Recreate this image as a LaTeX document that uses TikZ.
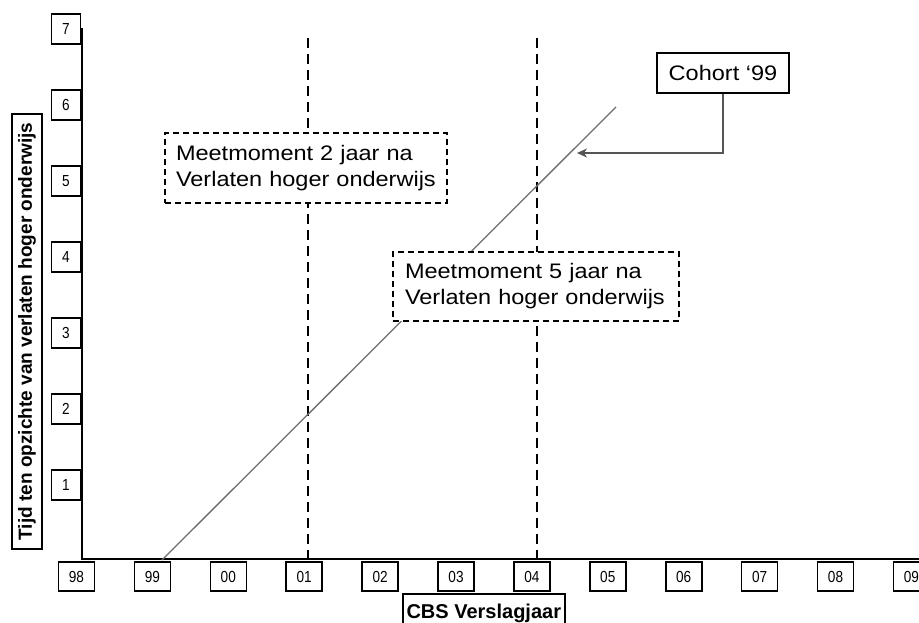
\documentclass[tikz,border=0pt]{standalone}
\usepackage{fontspec}
\setmainfont{Liberation Sans}
\newfontfamily\boxfont[FakeStretch=1.12]{Liberation Sans}
\newfontfamily\tickfont[FakeStretch=0.85]{Liberation Sans}
\usetikzlibrary{arrows.meta}
\begin{document}
\begin{tikzpicture}[x=1pt,y=-1pt,
  axisline/.style={line width=2pt,black},
  guide/.style={line width=1.6pt,black,dash pattern=on 10pt off 6pt},
  cohortline/.style={line width=1.3pt,color={rgb,255:red,110;green,110;blue,110}},
  pointer/.style={line width=2pt,color={rgb,255:red,85;green,85;blue,85},-{Stealth[length=10pt,width=9pt,inset=3pt]}},
  tickbox/.style={draw,line width=1.6pt,fill=white,inner sep=0pt,font=\tickfont\fontsize{16}{16}\selectfont},
  ytick/.style={tickbox,minimum width=29pt,minimum height=30pt},
  xtick/.style={tickbox,minimum width=36pt,minimum height=29pt},
  dashbox/.style={draw,line width=1.5pt,dash pattern=on 6pt off 4pt,fill=white,align=left,
    inner xsep=11pt,inner ysep=0pt,font=\boxfont\fontsize{21}{26}\selectfont},
  solidbox/.style={draw,line width=1.6pt,fill=white,inner sep=0pt}
]
\useasboundingbox (0,0) rectangle (919,622);
% axes
\coordinate (ytop) at (82,28);
\coordinate (origin) at (82,559);
\coordinate (xend) at (919,559);
\draw[axisline] (ytop) -- (origin) -- (xend);
% guide lines
\coordinate (g1top) at (308,38);
\coordinate (g1bot) at (308,559);
\coordinate (g2top) at (537,38);
\coordinate (g2bot) at (537,559);
\draw[guide] (g1top) -- (g1bot);
\draw[guide] (g2top) -- (g2bot);
% cohort line
\coordinate (cstart) at (162,560);
\coordinate (cend) at (616,107);
\draw[cohortline] (cstart) -- (cend);
% y ticks
\foreach \v [count=\i from 0] in {7,6,5,4,3,2,1}
  \node[ytick] (y\v) at (66,29+76*\i) {\v};
% x ticks
\foreach \t [count=\i from 0] in {98,99,00,01,02,03,04,05,06,07,08,09}
  \node[xtick] (x\t) at (76.5+75.9*\i,576.5) {\t};
% text boxes
\node[dashbox,minimum width=282pt,minimum height=70pt,text width=260pt] (m2) at (306,168)
  {Meetmoment 2 jaar na\\Verlaten hoger onderwijs};
\node[dashbox,minimum width=286pt,minimum height=69pt,text width=262pt] (m5) at (536,286.5)
  {Meetmoment 5 jaar na\\Verlaten hoger onderwijs};
\node[solidbox,minimum width=132pt,minimum height=40pt,font=\boxfont\fontsize{21}{26}\selectfont] (cohort) at (723,73) {Cohort ‘99};
\coordinate (arrowtip) at (577,153);
\draw[pointer] (cohort.south) |- (arrowtip);
% axis titles
\node[solidbox,rotate=90,minimum width=435pt,minimum height=30pt,font=\bfseries\fontsize{19}{19}\selectfont] (ylab) at (27,331.5)
  {Tijd ten opzichte van verlaten hoger onderwijs};
\node[solidbox,anchor=north west,minimum width=162pt,minimum height=40pt,font=\bfseries\fontsize{20}{20}\selectfont] (xlab) at (402,593)
  {CBS Verslagjaar};
\end{tikzpicture}
\end{document}
